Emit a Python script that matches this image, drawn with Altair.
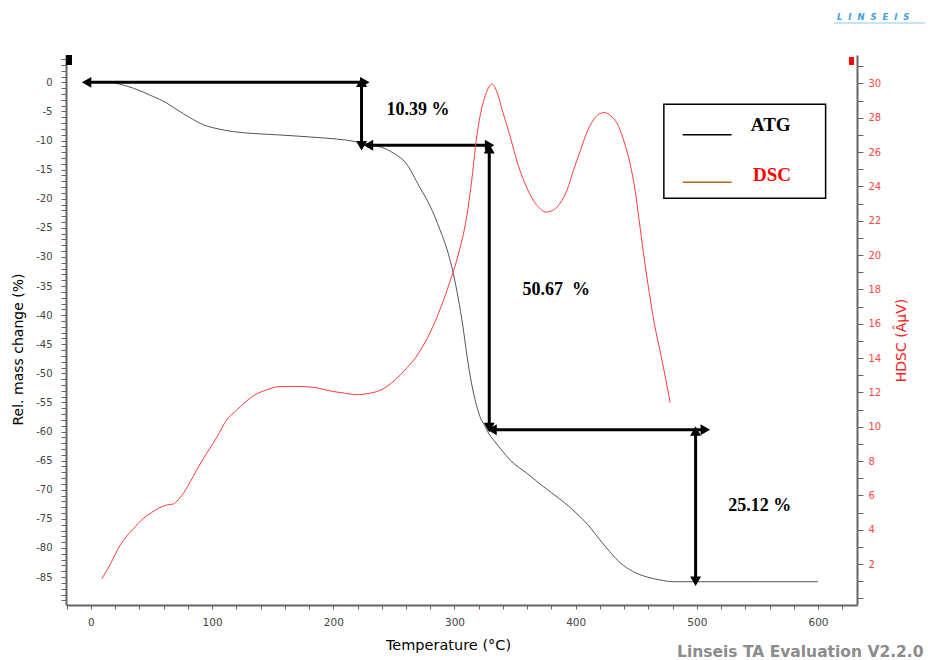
import altair as alt
import pandas as pd

# ---------------- data ----------------
# ATG: temperature (°C) -> relative mass change (%)
atg_t = [18, 20, 35, 51, 62, 71, 82, 93, 105, 117,
         135, 153, 175, 195, 210, 219, 230, 239, 250, 260,
         271, 280, 288, 294, 299, 303, 307, 310, 313, 317,
         321, 325, 329, 332, 339, 346, 360, 373, 387, 401,
         410, 420, 428, 437, 447, 459, 470, 480, 500, 550,
         600]
atg_v = [0.0, -0.1, -1.0, -2.4, -3.5, -4.7, -6.1, -7.3, -8.0, -8.45,
         -8.8, -9.0, -9.3, -9.6, -9.9, -10.2, -10.6, -11.1, -12.2, -13.9,
         -17.9, -21.3, -25.3, -28.8, -32.8, -37.0, -42.0, -46.5, -50.5, -54.5,
         -57.4, -59.0, -60.6, -61.4, -63.2, -64.9, -67.2, -69.4, -71.6, -74.1,
         -76.0, -78.6, -80.6, -82.6, -84.0, -85.0, -85.5, -85.8, -85.8, -85.8,
         -85.8]

# DSC: temperature (°C) -> HDSC (µV)
dsc_t = [9, 16, 24, 35, 43, 50, 57, 63, 68, 72,
         76, 82, 87, 95, 104, 112, 120, 134, 145, 156,
         170, 183, 200, 210, 219, 230, 241, 248, 255, 261,
         266, 274, 282, 289, 296, 303, 310, 314, 318, 322,
         326, 331, 335, 340, 346, 351, 358, 365, 370, 375,
         381, 387, 393, 398, 404, 409, 414, 419, 424, 429,
         434, 440, 445, 449, 453, 457, 461, 465, 470, 474,
         478]
dsc_v = [1.15, 2.0, 3.1, 4.05, 4.65, 5.0, 5.3, 5.45, 5.5, 5.75,
         6.1, 6.8, 7.45, 8.4, 9.4, 10.4, 10.95, 11.8, 12.15, 12.34,
         12.35, 12.3, 12.05, 11.95, 11.87, 11.95, 12.2, 12.55, 13.0, 13.45,
         13.85, 14.7, 15.8, 17.0, 18.4, 20.0, 22.2, 24.2, 26.7, 28.4,
         29.4, 29.96, 29.5, 28.3, 26.9, 25.6, 24.2, 23.2, 22.75, 22.5,
         22.6, 23.0, 23.8, 24.9, 26.1, 27.1, 27.8, 28.2, 28.3, 28.1,
         27.7, 26.6, 25.3, 23.8, 21.7, 19.6, 17.7, 16.0, 14.3, 12.9,
         11.4]

# mass-loss step arrows (start / end in data units)
arrow_x1 = [-3.6, 223.3, 229.0, 328.7, 331.0, 499.0]
arrow_x2 = [226.0, 223.3, 329.0, 328.7, 507.0, 499.0]
arrow_y1 = [0.0, 0.0, -10.8, -11.4, -59.7, -59.9]
arrow_y2 = [0.0, -10.9, -10.8, -59.3, -59.7, -85.7]

# step labels
step_labels = ["10.39 %", "50.67\u00a0\u00a0%", "25.12 %"]
step_label_t = [270, 384, 552]
step_label_v = [-4.7, -35.7, -72.8]

# legend
legend_names = ["ATG", "DSC"]
legend_line_colors = ["#000000", "#b5651d"]
legend_text_colors = ["#000000", "#ff0000"]

# axis tick values
x_ticks = list(range(-20, 640, 20))
yl_ticks = list(range(-89, 5))
yr_ticks = list(range(0, 32))

# ---------------- layout constants ----------------
W, H = 791, 550
X_DOMAIN = [-20.6, 632.2]
YL_DOMAIN = [-89.8, 4.7]
YR_DOMAIN = [-0.38, 31.65]
legend_box = dict(x1=472.8, x2=606.3, y1=-3.75, y2=-19.9)
legend_line_x = [488.3, 528.7]
legend_line_y = [-9.0, -17.15]
legend_text_t = [561, 562]
legend_text_y = [-7.4, -15.9]

AX_COL = "#666666"
LBL_FONT = "DejaVu Sans"

x_scale = alt.Scale(domain=X_DOMAIN, nice=False, zero=False)
yl_scale = alt.Scale(domain=YL_DOMAIN, nice=False, zero=False)
yr_scale = alt.Scale(domain=YR_DOMAIN, nice=False, zero=False)

x_axis = alt.Axis(
    orient="bottom", values=x_ticks,
    labelExpr="datum.value % 100 == 0 ? '' + datum.value : ''",
    labelOverlap=False, grid=False, tickSize=4, tickColor=AX_COL,
    domainColor=AX_COL, domainWidth=2, labelFont=LBL_FONT, labelFontSize=10.5,
    labelColor="#444444", labelPadding=8,
    title="Temperature (°C)", titleFont=LBL_FONT, titleFontSize=14.5,
    titleFontWeight="normal", titleColor="#000000",
    titleX=382, titleY=40, titleAlign="center", titleBaseline="middle",
)
yl_axis = alt.Axis(
    orient="left", values=yl_ticks,
    labelExpr="datum.value % 5 == 0 ? '' + datum.value : ''",
    labelOverlap=False, grid=False, tickSize=5, tickColor=AX_COL,
    domainColor=AX_COL, domainWidth=2, labelFont=LBL_FONT, labelFontSize=10,
    labelColor="#444444", labelPadding=9,
    title="Rel. mass change (%)", titleFont=LBL_FONT, titleFontSize=14,
    titleFontWeight="normal", titleColor="#000000", titleAngle=-90,
    titleX=-48, titleY=294, titleAlign="center", titleBaseline="middle",
)
yr_axis = alt.Axis(
    orient="right", values=yr_ticks,
    labelExpr="datum.value % 2 == 0 && datum.value > 0 ? '' + datum.value : ''",
    labelOverlap=False, grid=False, tickSize=6, tickColor=AX_COL,
    domainColor=AX_COL, domainWidth=2, labelFont=LBL_FONT, labelFontSize=10,
    labelColor="#ff4444", labelPadding=5,
    title="HDSC (ÂµV)", titleFont=LBL_FONT, titleFontSize=14,
    titleFontWeight="normal", titleColor="#ff2020", titleAngle=-90,
    titleX=44, titleY=285, titleAlign="center", titleBaseline="middle",
)


def X(field):
    return alt.X(field, scale=x_scale, axis=x_axis)


def YL(field):
    return alt.Y(field, scale=yl_scale, axis=yl_axis)


atg_df = pd.DataFrame({"T": atg_t, "v": atg_v})
dsc_df = pd.DataFrame({"T": dsc_t, "v": dsc_v})

atg = alt.Chart(atg_df).mark_line(color="#555555", strokeWidth=1, interpolate="monotone").encode(
    x=X("T:Q"), y=YL("v:Q"),
)

arrows_df = pd.DataFrame({"x1": arrow_x1, "x2": arrow_x2, "y1": arrow_y1, "y2": arrow_y2})
heads = []
for a, b, c, d in zip(arrow_x1, arrow_x2, arrow_y1, arrow_y2):
    if c == d:
        heads.append({"x": a, "y": c, "shape": "triangle-left"})
        heads.append({"x": b, "y": d, "shape": "triangle-right"})
    else:
        heads.append({"x": a, "y": c, "shape": "triangle-up"})
        heads.append({"x": b, "y": d, "shape": "triangle-down"})
heads_df = pd.DataFrame(heads)

shafts = alt.Chart(arrows_df).mark_rule(color="black", strokeWidth=3).encode(
    x=X("x1:Q"), x2="x2:Q", y=YL("y1:Q"), y2="y2:Q",
)
head_pts = alt.Chart(heads_df).mark_point(filled=True, size=120, opacity=1, color="black").encode(
    x=X("x:Q"), y=YL("y:Q"), shape=alt.Shape("shape:N", scale=None),
)

labels_df = pd.DataFrame({"t": step_label_t, "v": step_label_v, "label": step_labels})
step_text = alt.Chart(labels_df).mark_text(
    font="Liberation Serif", fontWeight="bold", fontSize=18, color="black"
).encode(x=X("t:Q"), y=YL("v:Q"), text="label:N")

box_df = pd.DataFrame([legend_box])
leg_box = alt.Chart(box_df).mark_rect(fill="white", stroke="black", strokeWidth=1.5).encode(
    x=X("x1:Q"), x2="x2:Q", y=YL("y1:Q"), y2="y2:Q",
)
leg_df = pd.DataFrame({
    "name": legend_names, "lc": legend_line_colors, "tc": legend_text_colors,
    "lx1": [legend_line_x[0]] * 2, "lx2": [legend_line_x[1]] * 2,
    "ly": legend_line_y, "tx": legend_text_t, "ty": legend_text_y,
})
leg_lines = alt.Chart(leg_df).mark_rule(strokeWidth=1.5).encode(
    x=X("lx1:Q"), x2="lx2:Q", y=YL("ly:Q"), color=alt.Color("lc:N", scale=None),
)
leg_text = alt.Chart(leg_df).mark_text(
    font="Liberation Serif", fontWeight="bold", fontSize=19
).encode(x=X("tx:Q"), y=YL("ty:Q"), text="name:N", color=alt.Color("tc:N", scale=None))

one = pd.DataFrame({"k": [0]})
marker_l = alt.Chart(one).mark_rect(color="black").encode(
    x=alt.value(0), x2=alt.value(6), y=alt.value(0), y2=alt.value(10))
marker_r = alt.Chart(one).mark_rect(color="#ff0000").encode(
    x=alt.value(W - 8), x2=alt.value(W - 3), y=alt.value(2), y2=alt.value(10))
version = alt.Chart(one).mark_text(
    text="Linseis TA Evaluation V2.2.0", font=LBL_FONT, fontSize=15.5, fontWeight="bold",
    color="#8c8c8c", align="left", baseline="middle",
).encode(x=alt.value(611), y=alt.value(597))
logo = alt.Chart(one).mark_text(
    text="L\u00a0\u00a0I\u00a0\u00a0N\u00a0\u00a0S\u00a0\u00a0E\u00a0\u00a0I\u00a0\u00a0S",
    font=LBL_FONT, fontSize=8.5, fontStyle="italic", fontWeight="bold",
    color="#3fa0dd", align="left", baseline="middle",
).encode(x=alt.value(771), y=alt.value(-38))
logo_line = alt.Chart(one).mark_rule(color="#8cc8ee", strokeWidth=1).encode(
    x=alt.value(768), x2=alt.value(859), y=alt.value(-32))

left = alt.layer(atg, shafts, head_pts, step_text, leg_box, leg_lines, leg_text,
                 marker_l, marker_r, version, logo, logo_line)

dsc = alt.Chart(dsc_df).mark_line(color="#ff3b3b", strokeWidth=1, interpolate="monotone").encode(
    x=X("T:Q"),
    y=alt.Y("v:Q", scale=yr_scale, axis=yr_axis),
)

chart = alt.layer(left, dsc).resolve_scale(y="independent").properties(
    width=W, height=H,
    autosize=alt.AutoSizeParams(type="none"),
    padding={"left": 66, "top": 55, "right": 71, "bottom": 55},
    background="white",
).configure_view(stroke=None)

chart.save("out.html", embed_options={"renderer": "svg", "actions": False})
